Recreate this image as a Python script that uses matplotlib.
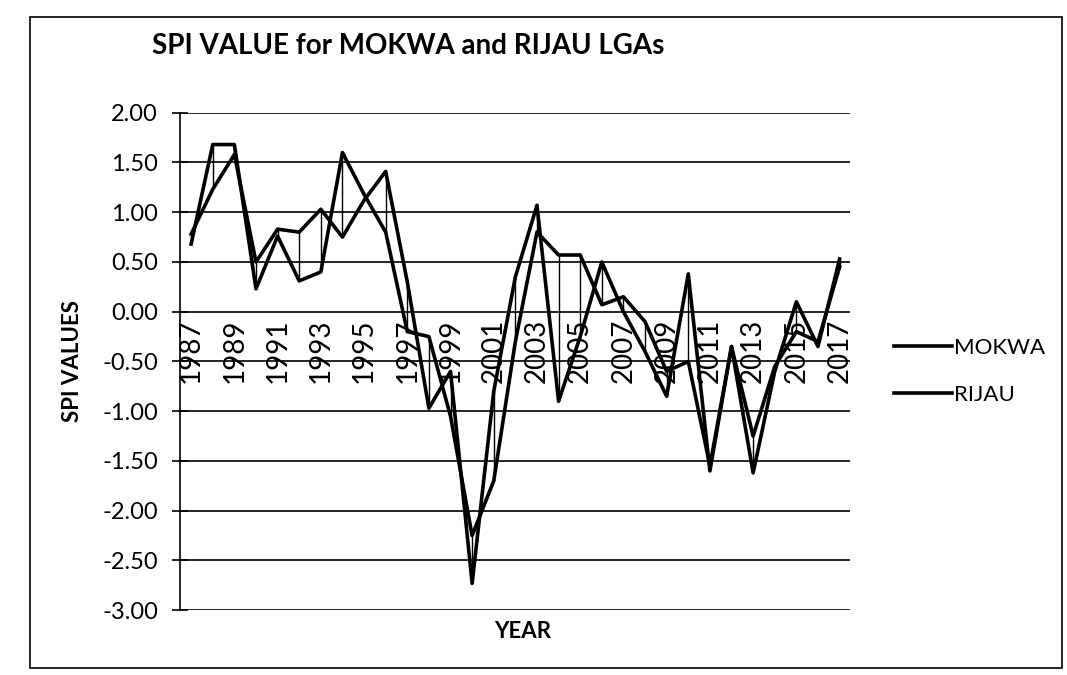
import matplotlib.pyplot as plt
from matplotlib.patches import Rectangle

plt.rcParams['font.family'] = ['Lato', 'DejaVu Sans']

years = list(range(1987, 2018))
mokwa = [0.68, 1.68, 1.68, 0.23, 0.76, 0.31, 0.40, 1.60, 1.18, 0.80,
         -0.20, -0.25, -1.05, -2.25, -1.70, -0.30, 0.80, 0.57, 0.57, 0.07,
         0.15, -0.10, -0.60, -0.50, -1.55, -0.35, -1.25, -0.55, -0.20, -0.30,
         0.45]
rijau = [0.78, 1.23, 1.58, 0.50, 0.83, 0.80, 1.03, 0.75, 1.12, 1.41,
         0.30, -0.97, -0.60, -2.73, -0.80, 0.35, 1.07, -0.90, -0.25, 0.50,
         0.00, -0.40, -0.85, 0.38, -1.60, -0.35, -1.62, -0.60, 0.10, -0.35,
         0.53]
yticks = [2.0, 1.5, 1.0, 0.5, 0.0, -0.5, -1.0, -1.5, -2.0, -2.5, -3.0]
xlabel_years = years[::2]

fig = plt.figure(figsize=(10.67, 6.75), dpi=100)
ax = fig.add_axes([0.169, 0.096, 0.628, 0.737])

# gridlines
for v in yticks:
    ax.axhline(v, color='black', lw=1.2, zorder=1)

# high-low lines between the two series
lo = [min(a, b) for a, b in zip(mokwa, rijau)]
hi = [max(a, b) for a, b in zip(mokwa, rijau)]
ax.vlines(years, lo, hi, color='black', lw=1.0, zorder=2)

ax.plot(years, mokwa, color='black', lw=2.6, label='MOKWA', zorder=3)
ax.plot(years, rijau, color='black', lw=2.6, label='RIJAU', zorder=3)

ax.set_xlim(1986.5, 2017.5)
ax.set_ylim(-3.0, 2.0)
ax.set_yticks(yticks)
ax.set_yticklabels([f'{v:.2f}' for v in yticks], fontsize=17)
ax.tick_params(axis='y', direction='inout', length=12, width=1.2, pad=10)

ax.spines['bottom'].set_position(('data', 0))
ax.spines['bottom'].set_visible(False)
ax.spines['top'].set_visible(False)
ax.spines['right'].set_visible(False)
ax.spines['left'].set_linewidth(1.2)
ax.set_xticks(xlabel_years)
ax.set_xticklabels([str(y) for y in xlabel_years], rotation=90, fontsize=20)
ax.tick_params(axis='x', length=0, pad=5)

ax.set_ylabel('SPI VALUES', fontsize=16, fontweight='bold', labelpad=14)
fig.text(0.49, 0.065, 'YEAR', fontsize=16, fontweight='bold',
         ha='center', va='center')
fig.text(0.383, 0.932, 'SPI VALUE for MOKWA and RIJAU LGAs', fontsize=20,
         fontweight='bold', ha='center', va='center')

leg = fig.legend(loc='center left', bbox_to_anchor=(0.819, 0.45),
                 frameon=False, fontsize=16, handlelength=2.6,
                 handletextpad=0.1, labelspacing=1.2)
for line in leg.get_lines():
    line.set_linewidth(2.6)

fig.patches.append(Rectangle((0.028, 0.01), 0.967, 0.965, fill=False,
                             edgecolor='black', lw=1.2,
                             transform=fig.transFigure))

fig.savefig('out.png', dpi=100)
